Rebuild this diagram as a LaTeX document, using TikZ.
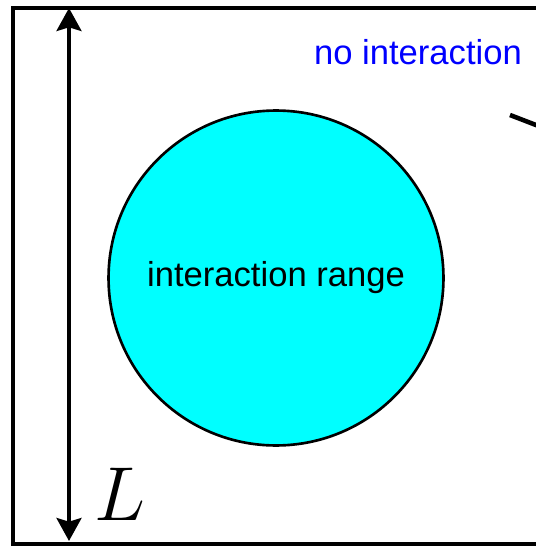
\documentclass[tikz,border=0pt]{standalone}
\usepackage{fontspec}
\setmainfont{Liberation Sans}
\usetikzlibrary{arrows.meta}
\definecolor{aqua}{RGB}{0,255,255}

\begin{document}
\begin{tikzpicture}[x=0.02cm, y=-0.02cm, every node/.style={font=\fontsize{19.7}{23}\selectfont}]
        \useasboundingbox (0,0) rectangle (536,547);
        % box, its right side lies outside the picture
        \draw[line width=2pt] (580,8) -- (13,8) -- (13,544) -- (580,544);
        \node[circle, draw, line width=1.5pt, fill=aqua, minimum size=6.7cm, inner sep=0pt] (range) at (276,278) {interaction range};
        \node[text=blue] (noint) at (418,52) {no interaction};
        \node[scale=2.1] (len) at (120,494) {$L$};
        \coordinate (top) at (69,8);
        \coordinate (bot) at (69,541);
        \draw[{Stealth[length=13pt, width=14pt, inset=2pt]}-{Stealth[length=13pt, width=14pt, inset=2pt]}, line width=2.6pt] (top) -- (bot);
        \coordinate (cutA) at (510,115);
        \coordinate (cutB) at (580,142);
        \draw[line width=2.6pt] (cutA) -- (cutB);
    \end{tikzpicture}
\end{document}
